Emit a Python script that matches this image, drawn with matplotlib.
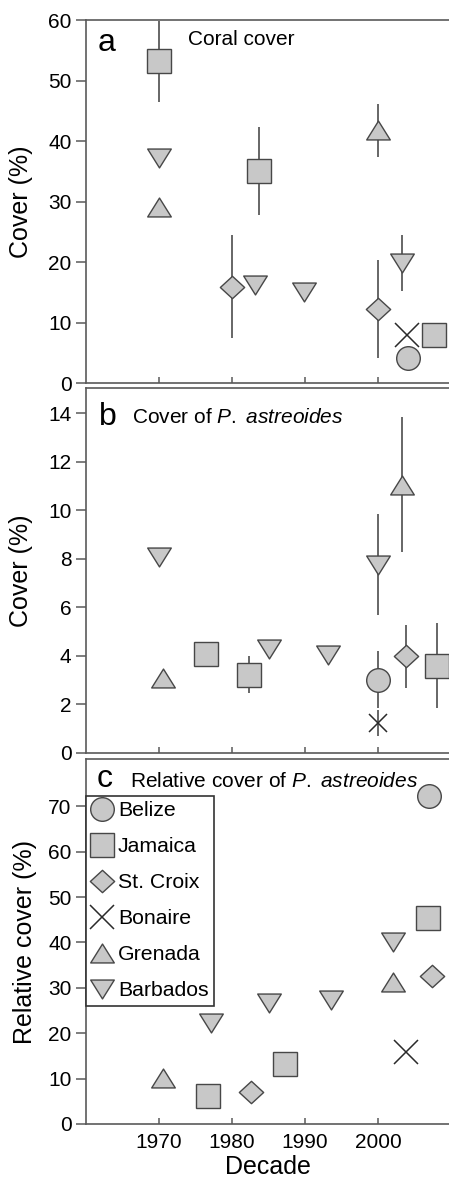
import matplotlib
matplotlib.use("Agg")
import matplotlib.pyplot as plt
from matplotlib.path import Path

plt.rcParams['font.family'] = ['Liberation Sans', 'DejaVu Sans']
plt.rcParams['mathtext.fontset'] = 'custom'
plt.rcParams['mathtext.rm'] = 'Liberation Sans'
plt.rcParams['mathtext.it'] = 'Liberation Sans:italic'

# ---- data (decade position, value, error) ----
# panel a: coral cover
belize_a_x = [2004.1]; belize_a_y = [4.1]; belize_a_e = [0]
jamaica_a_x = [1970, 1983.7, 2007.7]; jamaica_a_y = [53.2, 35.0, 7.9]; jamaica_a_e = [6.7, 7.3, 0]
stcroix_a_x = [1980, 2000]; stcroix_a_y = [15.9, 12.2]; stcroix_a_e = [8.5, 8.1]
bonaire_a_x = [2004.0]; bonaire_a_y = [7.9]; bonaire_a_e = [0]
grenada_a_x = [1970, 2000]; grenada_a_y = [29.1, 41.8]; grenada_a_e = [0, 4.4]
barbados_a_x = [1970, 1983.2, 1989.9, 2003.2]; barbados_a_y = [37.2, 16.2, 15.1, 19.8]; barbados_a_e = [0, 0, 0, 4.6]

# panel b: cover of P. astreoides
belize_b_x = [2000]; belize_b_y = [3.02]; belize_b_e = [1.17]
jamaica_b_x = [1976.4, 1982.3, 2008.0]; jamaica_b_y = [4.06, 3.23, 3.6]; jamaica_b_e = [0.5, 0.75, 1.75]
stcroix_b_x = [2003.8]; stcroix_b_y = [3.99]; stcroix_b_e = [1.3]
bonaire_b_x = [2000]; bonaire_b_y = [1.24]; bonaire_b_e = [0.55]
grenada_b_x = [1970.5, 2003.2]; grenada_b_y = [3.09, 11.07]; grenada_b_e = [0, 2.8]
barbados_b_x = [1970, 1985.0, 1993.1, 2000]; barbados_b_y = [8.1, 4.29, 4.05, 7.77]; barbados_b_e = [0, 0, 0, 2.1]

# panel c: relative cover of P. astreoides
belize_c_x = [2006.9]; belize_c_y = [72.2]
jamaica_c_x = [1976.7, 1987.2, 2006.8]; jamaica_c_y = [6.2, 13.2, 45.4]
stcroix_c_x = [1982.6, 2007.4]; stcroix_c_y = [6.95, 32.6]
bonaire_c_x = [2003.8]; bonaire_c_y = [15.95]
grenada_c_x = [1970.5, 2002.0]; grenada_c_y = [10.2, 31.2]
barbados_c_x = [1977.1, 1985.1, 1993.6, 2002.0]; barbados_c_y = [22.2, 26.6, 27.3, 40.1]

xticks = [1970, 1980, 1990, 2000]

# ---- styles ----
def poly(verts):
    return Path(verts + [verts[0]], closed=True)

tri_up = poly([(-0.5, -0.4), (0.5, -0.4), (0, 0.4)])
tri_dn = poly([(-0.5, 0.4), (0.5, 0.4), (0, -0.4)])
diamond = poly([(0, 0.46), (0.5, 0), (0, -0.46), (-0.5, 0)])

FACE = '#c8c8c8'
EDGE = '#474747'
SPINE = '#5a5a5a'
styles = {
    'Belize': dict(marker='o', ms=17),
    'Jamaica': dict(marker='s', ms=17),
    'St. Croix': dict(marker=diamond, ms=17.5),
    'Bonaire': dict(marker='x', ms=17),
    'Grenada': dict(marker=tri_up, ms=17),
    'Barbados': dict(marker=tri_dn, ms=17),
}

def draw(ax, name, x, y, e=None, ms=None):
    if e is not None:
        ax.errorbar(x, y, yerr=e, fmt='none', ecolor=SPINE, elinewidth=1.3,
                    capsize=0, zorder=2)
    st = dict(styles[name])
    if ms is not None:
        st['ms'] = ms
    if name == 'Bonaire':
        ax.plot(x, y, ls='none', color='#2a2a2a', mew=1.1, zorder=3, label=name, **st)
    else:
        ax.plot(x, y, ls='none', mfc=FACE, mec=EDGE, mew=1.0, zorder=3, label=name, **st)

def setup(ax, ymax, yticks, ylabel, labx, showx):
    ax.set_xlim(1960, 2009.7)
    ax.set_ylim(0, ymax)
    ax.set_xticks(xticks)
    ax.set_yticks(yticks)
    for s in ['left', 'top', 'bottom']:
        ax.spines[s].set_color(SPINE)
        ax.spines[s].set_linewidth(1.2)
    ax.spines['right'].set_visible(False)
    ax.tick_params(axis='y', direction='out', length=7, width=1.1, color=SPINE,
                   labelsize=15, pad=3.5)
    ax.tick_params(axis='x', direction='in', length=4, width=1.1, color=SPINE,
                   labelsize=15, pad=6.5, labelbottom=showx)
    ax.set_ylabel(ylabel, fontsize=18)
    ax.yaxis.set_label_coords(labx, 0.5)

fig = plt.figure(figsize=(4.49, 11.8), dpi=100)
L, W = 0.1915, 0.8085
ax1 = fig.add_axes([L, 0.6754, W, 0.3076])
ax2 = fig.add_axes([L, 0.3619, W, 0.3093])
ax3 = fig.add_axes([L, 0.04746, W, 0.3093])

# panel a
draw(ax1, 'Belize', belize_a_x, belize_a_y, belize_a_e)
draw(ax1, 'Jamaica', jamaica_a_x, jamaica_a_y, jamaica_a_e)
draw(ax1, 'St. Croix', stcroix_a_x, stcroix_a_y, stcroix_a_e)
draw(ax1, 'Bonaire', bonaire_a_x, bonaire_a_y, bonaire_a_e)
draw(ax1, 'Grenada', grenada_a_x, grenada_a_y, grenada_a_e)
draw(ax1, 'Barbados', barbados_a_x, barbados_a_y, barbados_a_e)
setup(ax1, 60, range(0, 61, 10), 'Cover (%)', -0.146, False)
ax1.text(0.032, 0.915, 'a', transform=ax1.transAxes, fontsize=23)
ax1.text(0.28, 0.931, 'Coral cover', transform=ax1.transAxes, fontsize=15)

# panel b
draw(ax2, 'Belize', belize_b_x, belize_b_y, belize_b_e)
draw(ax2, 'Jamaica', jamaica_b_x, jamaica_b_y, jamaica_b_e)
draw(ax2, 'St. Croix', stcroix_b_x, stcroix_b_y, stcroix_b_e)
draw(ax2, 'Bonaire', bonaire_b_x, bonaire_b_y, bonaire_b_e, ms=12.5)
draw(ax2, 'Grenada', grenada_b_x, grenada_b_y, grenada_b_e)
draw(ax2, 'Barbados', barbados_b_x, barbados_b_y, barbados_b_e)
setup(ax2, 15.05, range(0, 15, 2), 'Cover (%)', -0.146, False)
ax2.text(0.035, 0.899, 'b', transform=ax2.transAxes, fontsize=23)
ax2.text(0.126, 0.903, 'Cover of $P.$ $astreoides$', transform=ax2.transAxes, fontsize=15)

# panel c
draw(ax3, 'Belize', belize_c_x, belize_c_y)
draw(ax3, 'Jamaica', jamaica_c_x, jamaica_c_y)
draw(ax3, 'St. Croix', stcroix_c_x, stcroix_c_y)
draw(ax3, 'Bonaire', bonaire_c_x, bonaire_c_y)
draw(ax3, 'Grenada', grenada_c_x, grenada_c_y)
draw(ax3, 'Barbados', barbados_c_x, barbados_c_y)
setup(ax3, 80.4, range(0, 71, 10), 'Relative cover (%)', -0.134, True)
ax3.set_xlabel('Decade', fontsize=18, labelpad=2)
ax3.text(0.03, 0.923, 'c', transform=ax3.transAxes, fontsize=23)
ax3.text(0.121, 0.923, 'Relative cover of $P.$ $astreoides$', transform=ax3.transAxes,
         fontsize=15)

leg = ax3.legend(loc='upper left', bbox_to_anchor=(0, 0.8986), borderaxespad=0,
                 fontsize=15.3, frameon=True, fancybox=False, framealpha=1,
                 handlelength=1.0, handletextpad=0.25, borderpad=0.25,
                 labelspacing=0.8, numpoints=1)
leg.get_frame().set_edgecolor('#333333')
leg.get_frame().set_linewidth(1.2)

fig.savefig('out.png', dpi=100)
